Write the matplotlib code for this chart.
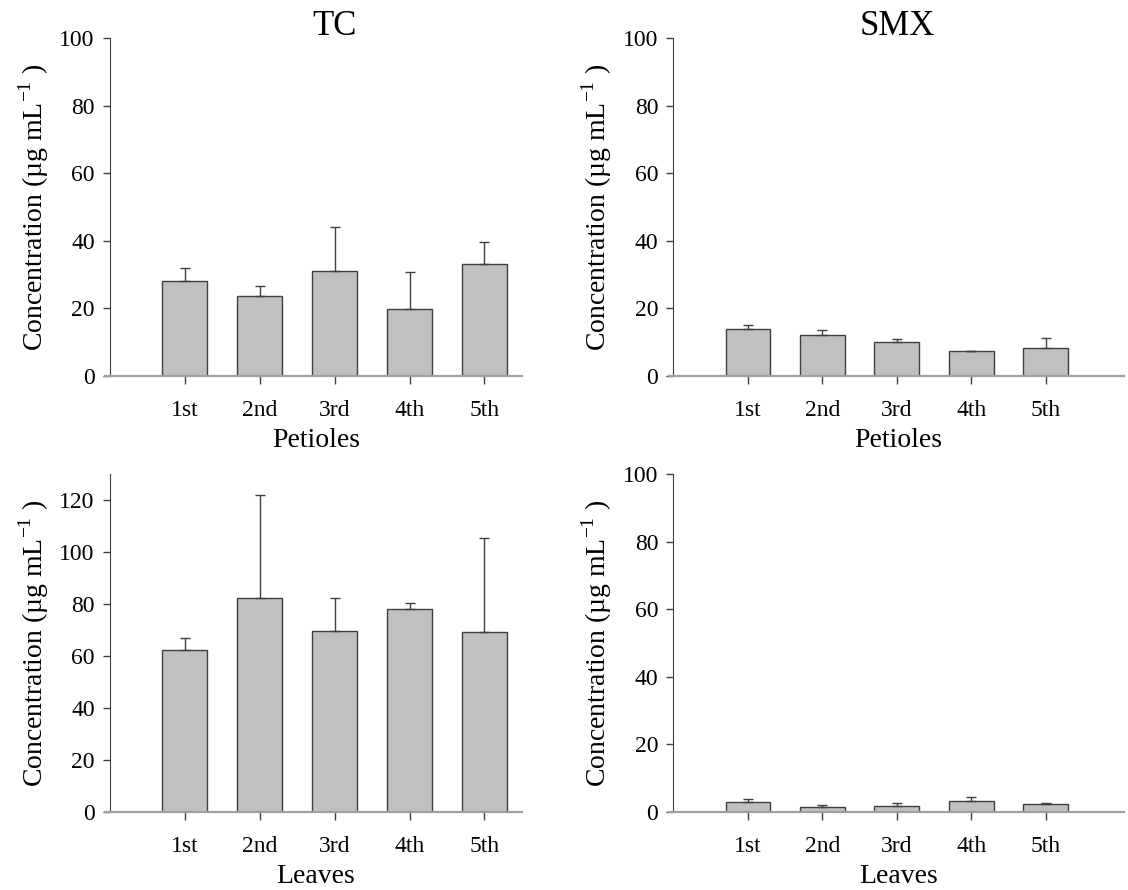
import numpy as np
import matplotlib
matplotlib.use('Agg')
import matplotlib.pyplot as plt
import matplotlib.transforms as mtransforms

plt.rcParams['font.family'] = ['Liberation Serif', 'DejaVu Serif']
plt.rcParams['mathtext.fontset'] = 'custom'
plt.rcParams['mathtext.rm'] = 'Liberation Serif'

# data (mean and upper error)
positions = ['1st', '2nd', '3rd', '4th', '5th']
tc_petioles = [28.1, 23.6, 31.2, 19.7, 33.1]
tc_petioles_sd = [3.8, 2.9, 12.9, 11.1, 6.5]
tc_leaves = [62.2, 82.3, 69.7, 78.1, 69.1]
tc_leaves_sd = [4.8, 39.6, 12.6, 2.2, 36.4]
smx_petioles = [13.8, 12.0, 10.0, 7.3, 8.4]
smx_petioles_sd = [1.2, 1.7, 0.9, 0.2, 2.8]
smx_leaves = [3.05, 1.48, 1.68, 3.16, 2.37]
smx_leaves_sd = [0.7, 0.7, 0.9, 1.2, 0.2]

fig = plt.figure(figsize=(11.28, 8.9), dpi=100)

ylab = 'Concentration (µg mL$^{-1}$ )'
panels = [
    # rect, means, sd, ylim, yticks, xlabel, xmax, title
    ([0.0975, 0.5775, 0.3652, 0.3798], tc_petioles, tc_petioles_sd, 100, np.arange(0, 101, 20), 'Petioles', 5.5, 'TC'),
    ([0.597, 0.5775, 0.3994, 0.3798], smx_petioles, smx_petioles_sd, 100, np.arange(0, 101, 20), 'Petioles', 6.05, 'SMX'),
    ([0.0975, 0.0876, 0.3652, 0.3798], tc_leaves, tc_leaves_sd, 130, np.arange(0, 121, 20), 'Leaves', 5.5, None),
    ([0.597, 0.0876, 0.3994, 0.3798], smx_leaves, smx_leaves_sd, 100, np.arange(0, 101, 20), 'Leaves', 6.05, None),
]

x = np.arange(1, len(positions) + 1)
for rect, vals, sd, ymax, yt, xl, xmax, title in panels:
    ax = fig.add_axes(rect)
    ax.bar(x, vals, width=0.6, color='#c0c0c0', edgecolor='#404040', linewidth=1.0, zorder=2)
    ax.errorbar(x, vals, yerr=[np.zeros(len(sd)), sd], fmt='none', ecolor='#404040',
                elinewidth=1.0, capsize=3.5, capthick=1.0, zorder=3)
    ax.set_xlim(0, xmax)
    ax.set_ylim(0, ymax)
    ax.set_yticks(yt)
    ax.set_xticks(x)
    ax.set_xticklabels(positions)
    ax.tick_params(axis='both', labelsize=17, color='#404040', width=1)
    ax.tick_params(axis='y', length=5, pad=6)
    ax.tick_params(axis='x', length=6, pad=11)
    ax.spines['top'].set_visible(False)
    ax.spines['right'].set_visible(False)
    ax.spines['left'].set_color('#404040')
    ax.spines['bottom'].set_color('#a0a0a0')
    ax.spines['bottom'].set_linewidth(1.6)
    ax.spines['bottom'].set_bounds(-0.06, xmax)
    ax.set_xlabel(xl, fontsize=20, labelpad=5)
    ax.set_ylabel(ylab, fontsize=20, labelpad=6)
    if title:
        trans = mtransforms.blended_transform_factory(ax.transData, ax.transAxes)
        ax.text(3, 1.01, title, transform=trans, ha='center', va='baseline', fontsize=25)

fig.savefig('out.png', dpi=100)
